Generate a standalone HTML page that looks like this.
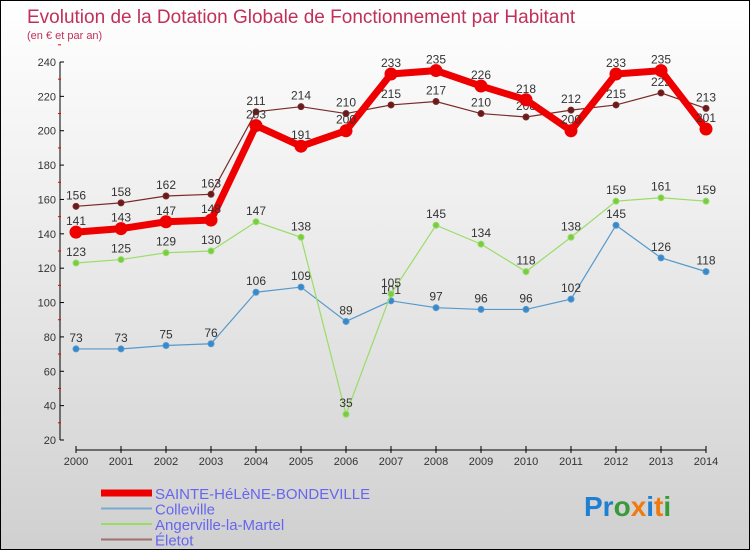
<!DOCTYPE html>
<html><head><meta charset="utf-8"><style>
html,body{margin:0;padding:0}
body{width:750px;height:550px;overflow:hidden;font-family:"Liberation Sans",sans-serif}
#wrap{position:relative;width:748px;height:548px;border:1px solid #000;background:linear-gradient(#ffffff 0%,#f2f2f2 30%,#d0d0d0 100%)}
</style></head><body>
<div id="wrap">
<svg id="chart" width="748" height="548" style="position:absolute;left:0;top:0">
<text x="26" y="22" font-size="19" fill="#c0305a">Evolution de la Dotation Globale de Fonctionnement par Habitant</text>
<text x="26" y="38" font-size="11" fill="#c0305a">(en € et par an)</text>
<g id="axes"></g><g id="series"></g><g id="legend"></g>
<text x="583" y="515" font-size="28" font-weight="bold" fill="#1f7fd0">Pr<tspan fill="#3a9a3a">o</tspan><tspan fill="#f07a10">x</tspan><tspan fill="#1f7fd0">i</tspan><tspan fill="#f07a10">t</tspan><tspan fill="#3a9a3a">i</tspan></text>
</svg>
</div>
<script>
const years=[2000,2001,2002,2003,2004,2005,2006,2007,2008,2009,2010,2011,2012,2013,2014];
const sainte=[141,143,147,148,203,191,200,233,235,226,218,200,233,235,201];
const colleville=[73,73,75,76,106,109,89,101,97,96,96,102,145,126,118];
const angerville=[123,125,129,130,147,138,35,105,145,134,118,138,159,161,159];
const eletot=[156,158,162,163,211,214,210,215,217,210,208,212,215,222,213];
const yTicks=[20,40,60,80,100,120,140,160,180,200,220,240];
const NS="http://www.w3.org/2000/svg";
function X(i){return 75+i*(630/14);}
function Y(v){return 439-(v-20)*(378/220);}
function mk(t,a,p){const e=document.createElementNS(NS,t);for(const k in a)e.setAttribute(k,a[k]);p.appendChild(e);return e;}
const axes=document.getElementById('axes');
const ya=mk('line',{x1:59,y1:Y(240),x2:59,y2:Y(20),stroke:'#000'},axes);


yTicks.forEach(v=>{
 mk('line',{x1:59,y1:Y(v),x2:63,y2:Y(v),stroke:'#000'},axes);
 mk('line',{x1:57,y1:Y(v+10),x2:60,y2:Y(v+10),stroke:'#e00'},axes);
 const t=mk('text',{x:55,y:Y(v)+4,'font-size':11,fill:'#333','text-anchor':'end'},axes);
 t.textContent=v;
 
 
});
const xa=mk('line',{x1:X(0),y1:449,x2:X(14),y2:449,stroke:'#000'},axes);


years.forEach((y,i)=>{
 mk('line',{x1:X(i),y1:445,x2:X(i),y2:452,stroke:'#000'},axes);
 const t=mk('text',{x:X(i),y:464,'font-size':11,fill:'#333','text-anchor':'middle'},axes);
 t.textContent=y;
 
 
});
const S=document.getElementById('series');
function draw(data,color,w,r,dot,name){
 const g=mk('g',{},S);
 
 
 mk('polyline',{points:data.map((v,i)=>X(i)+','+Y(v)).join(' '),fill:'none',stroke:color,'stroke-width':w},g);
 data.forEach((v,i)=>{
  const c=mk('circle',{cx:X(i),cy:Y(v),r:r,fill:dot,stroke:color,'stroke-width':1},g);
  
  
  const t=mk('text',{x:X(i),y:Y(v)-7,'font-size':12,fill:'#333','text-anchor':'middle'},g);
  t.textContent=v;
  
  
 });
}
draw(colleville,'#5599cc',1.2,3,'#3a88cc','colleville-series');
draw(angerville,'#99dd66',1.2,3,'#77cc44','angerville-series');
draw(eletot,'#7a2a2a',1.2,3,'#6a1a1a','eletot-series');
draw(sainte,'#ee0000',7,6,'#ee0000','sainte-helene-series');
const L=document.getElementById('legend');
const leg=[['SAINTE-HéLèNE-BONDEVILLE','#ee0000',7],['Colleville','#7aaad0',2],['Angerville-la-Martel','#99dd66',2],['Életot','#a07070',2]];
leg.forEach((l,i)=>{
 const y=492+i*15.5;
 const g=mk('g',{},L);
 
 
 mk('line',{x1:100,y1:y,x2:151,y2:y,stroke:l[1],'stroke-width':l[2]},g);
 const t=mk('text',{x:154,y:y+6,'font-size':15,fill:'#6666ee',textLength:l[0].length>10?0:null},g);
 t.removeAttribute('textLength');
 t.textContent=l[0];
});
</script>
</body></html>
